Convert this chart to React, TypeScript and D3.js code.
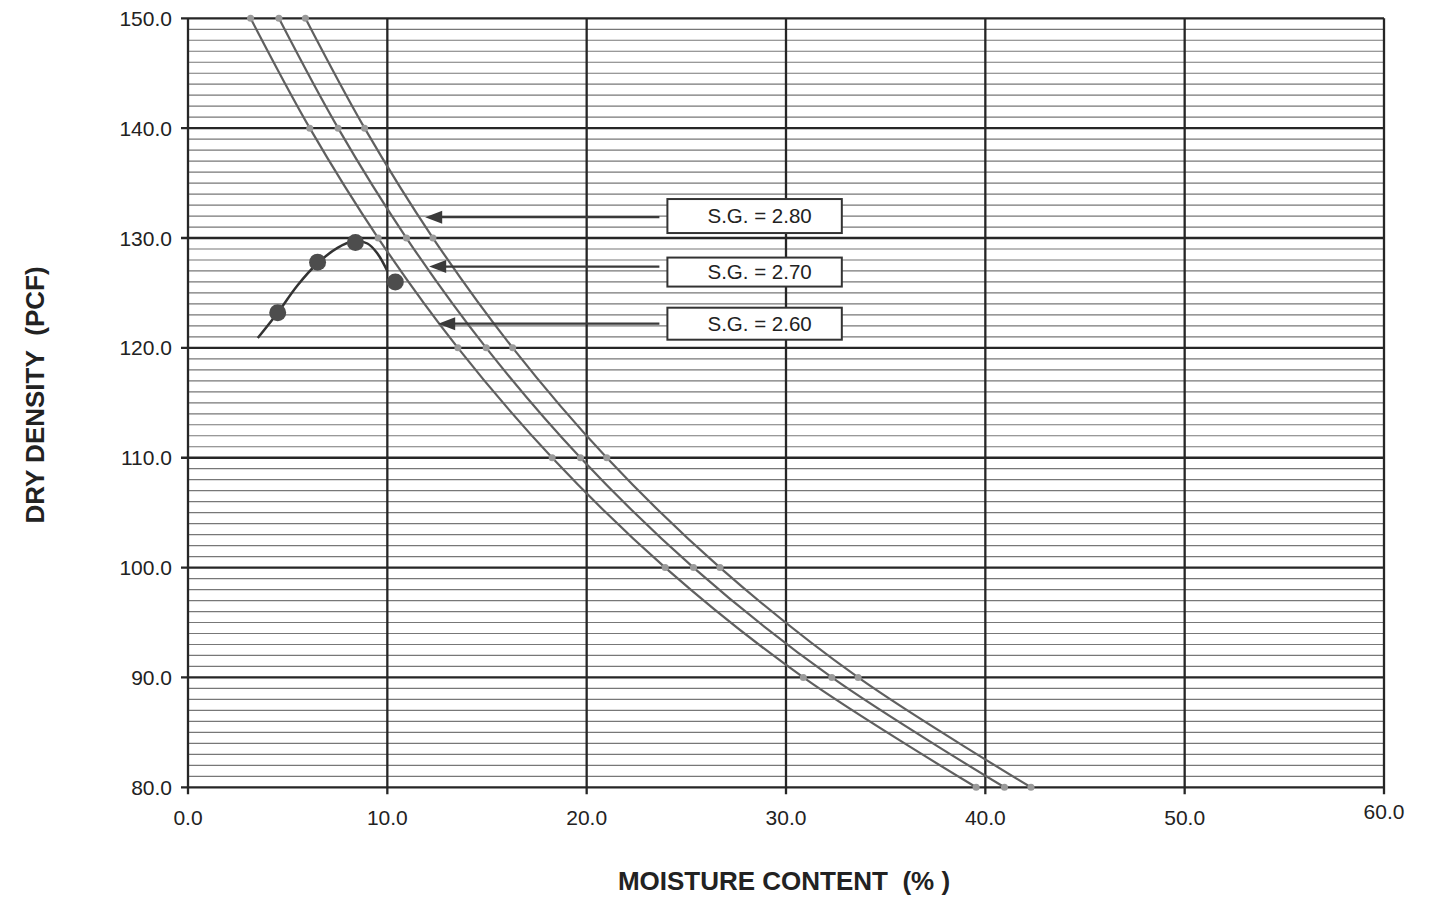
import React from "react";
import * as d3 from "d3";

// Zero-air-voids lines: moisture content (%) at each dry density (pcf)
const densityLevels = [150, 140, 130, 120, 110, 100, 90, 80];
const moistureSG260 = [3.14, 6.11, 9.54, 13.54, 18.27, 23.94, 30.87, 39.54];
const moistureSG270 = [4.56, 7.53, 10.96, 14.96, 19.69, 25.36, 32.3, 40.96];
const moistureSG280 = [5.89, 8.86, 12.29, 16.29, 21.01, 26.69, 33.62, 42.29];

// Compaction test points
const testMoisture = [4.5, 6.5, 8.4, 10.4];
const testDensity = [123.2, 127.8, 129.6, 126.0];

// Fitted compaction curve
const fitMoisture = [3.5, 4.5, 5.5, 6.5, 7.5, 8.3, 9.0, 9.5, 10.0];
const fitDensity = [120.9, 123.2, 125.7, 127.7, 129.1, 129.7, 129.5, 128.6, 127.0];

// Specific gravity call-outs
const sgLabels = ["S.G. = 2.80", "S.G. = 2.70", "S.G. = 2.60"];
const sgArrowTipMoisture = [11.9, 12.1, 12.55];
const sgArrowDensity = [131.9, 127.4, 122.2];
const sgBoxDensity = [132.0, 126.9, 122.2];

// Axis ticks
const xTicks = [0, 10, 20, 30, 40, 50, 60];
const yTicks = [80, 90, 100, 110, 120, 130, 140, 150];
const yMinorTicks = d3.range(80, 151, 1);

const W = 1438;
const H = 899;
const LEFT = 188;
const RIGHT = 1384;
const TOP = 18.3;
const BOTTOM = 787.3;

const FONT = "'Liberation Sans', Arial, Helvetica, sans-serif";

export default function App() {
  const x = d3.scaleLinear().domain([0, 60]).range([LEFT, RIGHT]);
  const y = d3.scaleLinear().domain([80, 150]).range([BOTTOM, TOP]);

  const zavSeries = [moistureSG260, moistureSG270, moistureSG280].map((ms) =>
    ms.map((m, i) => [m, densityLevels[i]] as [number, number])
  );

  const zavLine = d3
    .line<[number, number]>()
    .x((d) => x(d[0]))
    .y((d) => y(d[1]))
    .curve(d3.curveCatmullRom);

  const fitPts = fitMoisture.map((m, i) => [m, fitDensity[i]] as [number, number]);
  const fitLine = d3
    .line<[number, number]>()
    .x((d) => x(d[0]))
    .y((d) => y(d[1]))
    .curve(d3.curveCatmullRom);

  const boxLeft = x(24.05);
  const boxRight = x(32.8);
  const boxHeights = [34, 29, 32];

  return (
    <svg
      width={W}
      height={H}
      style={{ position: "absolute", left: 0, top: 0, background: "#fff" }}
      fontFamily={FONT}
    >
      <rect x={0} y={0} width={W} height={H} fill="#fff" />

      {/* minor horizontal grid every 1 pcf */}
      {yMinorTicks
        .filter((v) => v % 10 !== 0)
        .map((v) => (
          <line
            key={"mn" + v}
            x1={LEFT}
            x2={RIGHT}
            y1={y(v)}
            y2={y(v)}
            stroke="#777"
            strokeWidth={1.2}
          />
        ))}

      {/* major grid */}
      {yTicks.map((v) => (
        <line
          key={"my" + v}
          x1={LEFT - 7}
          x2={RIGHT}
          y1={y(v)}
          y2={y(v)}
          stroke="#262626"
          strokeWidth={2.3}
        />
      ))}
      {xTicks.map((v) => (
        <line
          key={"mx" + v}
          x1={x(v)}
          x2={x(v)}
          y1={TOP}
          y2={BOTTOM + 7}
          stroke="#262626"
          strokeWidth={2.3}
        />
      ))}

      {/* zero-air-voids curves */}
      {zavSeries.map((pts, si) => (
        <g key={"zav" + si}>
          <path d={zavLine(pts) || ""} fill="none" stroke="#606060" strokeWidth={2.2} />
          {pts.map((p, i) => (
            <circle key={i} cx={x(p[0])} cy={y(p[1])} r={3.5} fill="#9a9a9a" />
          ))}
        </g>
      ))}

      {/* compaction curve */}
      <path d={fitLine(fitPts) || ""} fill="none" stroke="#333" strokeWidth={2.5} />
      {testMoisture.map((m, i) => (
        <circle key={"t" + i} cx={x(m)} cy={y(testDensity[i])} r={8.5} fill="#4d4d4d" />
      ))}

      {/* S.G. call-outs */}
      {sgLabels.map((lab, i) => {
        const ay = y(sgArrowDensity[i]);
        const tip = x(sgArrowTipMoisture[i]);
        const by = y(sgBoxDensity[i]);
        const bh = boxHeights[i];
        return (
          <g key={"sg" + i}>
            <line x1={boxLeft - 8} x2={tip + 14} y1={ay} y2={ay} stroke="#3a3a3a" strokeWidth={2.2} />
            <path
              d={`M${tip},${ay} L${tip + 17},${ay - 6.5} L${tip + 17},${ay + 6.5} Z`}
              fill="#3a3a3a"
            />
            <rect
              x={boxLeft}
              y={by - bh / 2}
              width={boxRight - boxLeft}
              height={bh}
              fill="#fff"
              stroke="#333"
              strokeWidth={2}
            />
            <text
              x={(boxLeft + boxRight) / 2 + 5}
              y={by}
              dy="0.36em"
              textAnchor="middle"
              fontSize={20.5}
              fill="#222"
            >
              {lab}
            </text>
          </g>
        );
      })}

      {/* tick labels */}
      {yTicks.map((v) => (
        <text
          key={"yl" + v}
          x={172}
          y={y(v)}
          dy="0.36em"
          textAnchor="end"
          fontSize={21}
          fill="#222"
        >
          {v.toFixed(1)}
        </text>
      ))}
      {xTicks.map((v) => (
        <text
          key={"xl" + v}
          x={x(v)}
          y={v === 60 ? 819 : 825}
          textAnchor="middle"
          fontSize={21}
          fill="#222"
        >
          {v.toFixed(1)}
        </text>
      ))}

      {/* axis titles */}
      <text
        x={784}
        y={890}
        textAnchor="middle"
        fontSize={26}
        fontWeight="bold"
        fill="#222"
      >
        MOISTURE CONTENT&#160;&#160;(% )
      </text>
      <text
        transform={`translate(44, 395) rotate(-90)`}
        textAnchor="middle"
        fontSize={26}
        fontWeight="bold"
        fill="#222"
      >
        DRY DENSITY&#160;&#160;(PCF)
      </text>
    </svg>
  );
}
